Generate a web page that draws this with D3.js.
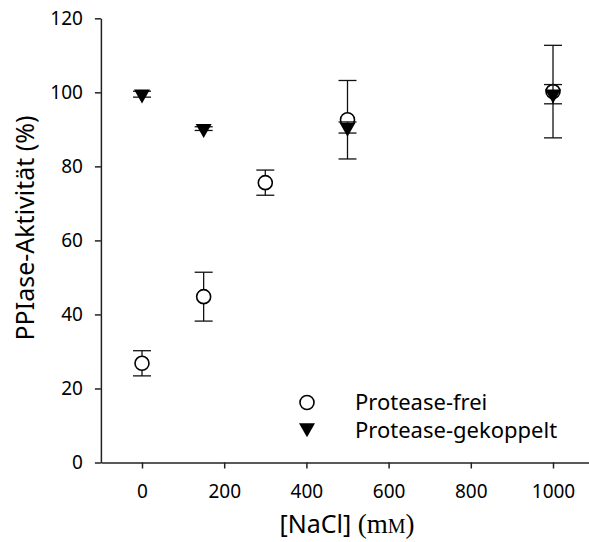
<!DOCTYPE html>
<html>
<head>
<meta charset="utf-8">
<script src="https://cdn.jsdelivr.net/npm/d3@7"></script>
<style>
  body { margin: 0; background: #fff; }
  svg { display: block; }
  text { font-family: "Noto Sans", sans-serif; fill: #000; }
</style>
</head>
<body>
<div id="chart"></div>
<script>
// NaCl concentration (mM)
var nacl = [0, 150, 300, 500, 1000];
// Protease-frei: mean and error
var freiMean = [26.8, 44.8, 75.6, 92.6, 100.2];
var freiErr = [3.4, 6.6, 3.4, 10.6, 12.5];
// Protease-gekoppelt
var gekNacl = [0, 150, 500, 1000];
var gekMean = [99.5, 90.2, 90.5, 99.5];
var gekErr = [0.8, 0.5, 1.5, 2.6];

var xTicks = [0, 200, 400, 600, 800, 1000];
var yTicks = [0, 20, 40, 60, 80, 100, 120];
var seriesNames = ["Protease-frei", "Protease-gekoppelt"];

var width = 589, height = 542;

var svg = d3.select("#chart")
  .append("svg")
  .attr("width", width)
  .attr("height", height);

var x = d3.scaleLinear()
  .domain([-100, 1100])
  .range([100.9, 594.1]);

var y = d3.scaleLinear()
  .domain([0, 120])
  .range([462.5, 18.3]);

// axes
var yAxis = svg.append("g")
  .attr("transform", "translate(" + x(-100) + ",0)")
  .call(d3.axisLeft(y).tickValues(yTicks).tickFormat(d3.format("d"))
    .tickSize(6).tickSizeOuter(0).tickPadding(12));

var xAxis = svg.append("g")
  .attr("transform", "translate(0," + y(0) + ")")
  .call(d3.axisBottom(x).tickValues(xTicks).tickFormat(d3.format("d"))
    .tickSize(6).tickSizeOuter(0).tickPadding(16));

[xAxis, yAxis].forEach(function(a) {
  a.selectAll("path, line").attr("stroke", "#222").attr("stroke-width", 1.5);
  a.selectAll("text")
    .style("font-family", "'Noto Sans', sans-serif")
    .style("font-size", "19px")
    .attr("fill", "#000");
});

// axis titles
svg.append("text")
  .attr("transform", "translate(34," + 228 + ") rotate(-90)")
  .attr("text-anchor", "middle")
  .style("font-size", "25px")
  .text("PPIase-Aktivität (%)");

var xt = svg.append("text")
  .attr("x", 347)
  .attr("y", 533)
  .attr("text-anchor", "middle")
  .style("font-size", "25px");
xt.append("tspan").text("[NaCl] ");
xt.append("tspan").style("font-family", "'Liberation Serif', serif").style("font-size", "27px").text("(m");
xt.append("tspan").style("font-family", "'Liberation Serif', serif").style("font-size", "20px").text("M");
xt.append("tspan").style("font-family", "'Liberation Serif', serif").style("font-size", "27px").text(")");

// triangle pointing down, centred on its centroid
function downTri(w, h) {
  return "M" + (-w / 2) + "," + (-h / 3) + "L" + (w / 2) + "," + (-h / 3) + "L0," + (2 * h / 3) + "Z";
}

function errorBars(g, xs, means, errs) {
  var capW = 9;
  var d = xs.map(function(v, i) { return { x: v, m: means[i], e: errs[i] }; });
  g.selectAll("line.v").data(d).enter().append("line")
    .attr("x1", function(d) { return x(d.x); })
    .attr("x2", function(d) { return x(d.x); })
    .attr("y1", function(d) { return y(d.m - d.e); })
    .attr("y2", function(d) { return y(d.m + d.e); })
    .attr("stroke", "#111").attr("stroke-width", 1.3);
  [-1, 1].forEach(function(s) {
    g.selectAll("line.c" + s).data(d).enter().append("line")
      .attr("x1", function(d) { return x(d.x) - capW; })
      .attr("x2", function(d) { return x(d.x) + capW; })
      .attr("y1", function(d) { return y(d.m + s * d.e); })
      .attr("y2", function(d) { return y(d.m + s * d.e); })
      .attr("stroke", "#111").attr("stroke-width", 1.3);
  });
}

// Protease-frei
var g1 = svg.append("g");
errorBars(g1, nacl, freiMean, freiErr);
g1.selectAll("circle").data(nacl).enter().append("circle")
  .attr("cx", function(d) { return x(d); })
  .attr("cy", function(d, i) { return y(freiMean[i]); })
  .attr("r", 7)
  .attr("fill", "#fff")
  .attr("stroke", "#000")
  .attr("stroke-width", 1.6);

// Protease-gekoppelt
var g2 = svg.append("g");
errorBars(g2, gekNacl, gekMean, gekErr);
g2.selectAll("path.tri").data(gekNacl).enter().append("path")
  .attr("class", "tri")
  .attr("transform", function(d, i) { return "translate(" + x(d) + "," + y(gekMean[i]) + ")"; })
  .attr("d", downTri(16, 14))
  .attr("fill", "#000");

// legend
var legend = svg.append("g");
legend.append("circle")
  .attr("cx", 307).attr("cy", 402.5).attr("r", 7)
  .attr("fill", "#fff").attr("stroke", "#000").attr("stroke-width", 1.6);
legend.append("path")
  .attr("transform", "translate(307,428)")
  .attr("d", downTri(16, 14))
  .attr("fill", "#000");
legend.selectAll("text").data(seriesNames).enter().append("text")
  .attr("x", 355)
  .attr("y", function(d, i) { return 402.5 + i * 27.5; })
  .attr("dy", "0.35em")
  .style("font-size", "22px")
  .text(function(d) { return d; });
</script>
</body>
</html>
